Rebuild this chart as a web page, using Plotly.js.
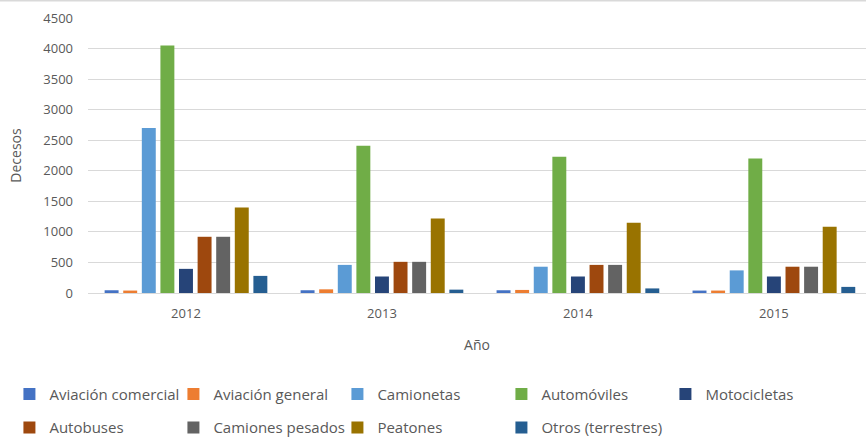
<!DOCTYPE html>
<html>
<head>
<meta charset="utf-8">
<script src="https://cdn.plot.ly/plotly-3.0.1.min.js"></script>
<style>html,body{margin:0;padding:0;background:#fff;}#chart{width:866px;height:440px;}</style>
</head>
<body>
<div id="chart"></div>
<script>
var years = ["2012", "2013", "2014", "2015"];
var seriesNames = ["Aviación comercial", "Aviación general", "Camionetas", "Automóviles", "Motocicletas", "Autobuses", "Camiones pesados", "Peatones", "Otros (terrestres)"];
var aviacionComercial = [45, 45, 45, 40];
var aviacionGeneral = [40, 60, 50, 40];
var camionetas = [2700, 460, 430, 370];
var automoviles = [4050, 2410, 2230, 2200];
var motocicletas = [395, 270, 270, 270];
var autobuses = [920, 510, 460, 430];
var camionesPesados = [920, 510, 460, 430];
var peatones = [1400, 1220, 1150, 1085];
var otros = [280, 55, 75, 100];
var seriesColors = ["#4472C4", "#ED7D31", "#5B9BD5", "#70AD47", "#264478", "#9E480E", "#636363", "#997300", "#255E91"];
var yTicks = [0, 500, 1000, 1500, 2000, 2500, 3000, 3500, 4000, 4500];

var allValues = [aviacionComercial, aviacionGeneral, camionetas, automoviles, motocicletas, autobuses, camionesPesados, peatones, otros];
var traces = allValues.map(function (vals, i) {
  return {
    type: "bar",
    name: seriesNames[i],
    x: years,
    y: vals,
    marker: { color: seriesColors[i] },
    legend: i < 5 ? "legend" : "legend2",
    hoverinfo: "x+y+name"
  };
});

var font = "Open Sans, sans-serif";
var txt = "#595959";
var legendCommon = {
  orientation: "h",
  xanchor: "left",
  yanchor: "middle",
  font: { family: font, size: 15, color: txt },
  itemwidth: 30,
  entrywidth: 119,
  entrywidthmode: "pixels",
  bgcolor: "rgba(0,0,0,0)",
  traceorder: "normal"
};

var layout = {
  width: 866,
  height: 440,
  margin: { l: 88, r: 0, t: 18, b: 147, pad: 0, autoexpand: false },
  paper_bgcolor: "#ffffff",
  plot_bgcolor: "#ffffff",
  barmode: "group",
  bargap: 0.146,
  bargroupgap: 0.25,
  showlegend: true,
  font: { family: font, color: txt },
  xaxis: {
    type: "category",
    range: [-0.5, 3.47],
    automargin: false,
    showgrid: false,
    zeroline: false,
    showline: false,
    ticks: "",
    ticklabelstandoff: 11,
    tickfont: { family: font, size: 13, color: txt },
    title: { text: "Año", font: { family: font, size: 14, color: txt }, standoff: 19 }
  },
  yaxis: {
    range: [0, 4500],
    automargin: false,
    tickvals: yTicks,
    ticktext: yTicks.map(String),
    showgrid: true,
    gridcolor: "#d9d9d9",
    gridwidth: 1,
    zeroline: true,
    zerolinecolor: "#d9d9d9",
    zerolinewidth: 1,
    showline: false,
    ticks: "",
    ticklabelstandoff: 14,
    tickfont: { family: font, size: 13, color: txt },
    title: { text: "Decesos", font: { family: font, size: 14, color: txt }, standoff: 18 }
  },
  legend: Object.assign({}, legendCommon, { x: -0.101, y: -0.368 }),
  legend2: Object.assign({}, legendCommon, { x: -0.101, y: -0.49 }),
  shapes: [{
    type: "line", xref: "paper", yref: "paper",
    x0: -0.12, x1: 1.0, y0: 1.0636, y1: 1.0636,
    line: { color: "#d9d9d9", width: 2 }
  }]
};

Plotly.newPlot("chart", traces, layout, { displayModeBar: false, staticPlot: false });
</script>
</body>
</html>
